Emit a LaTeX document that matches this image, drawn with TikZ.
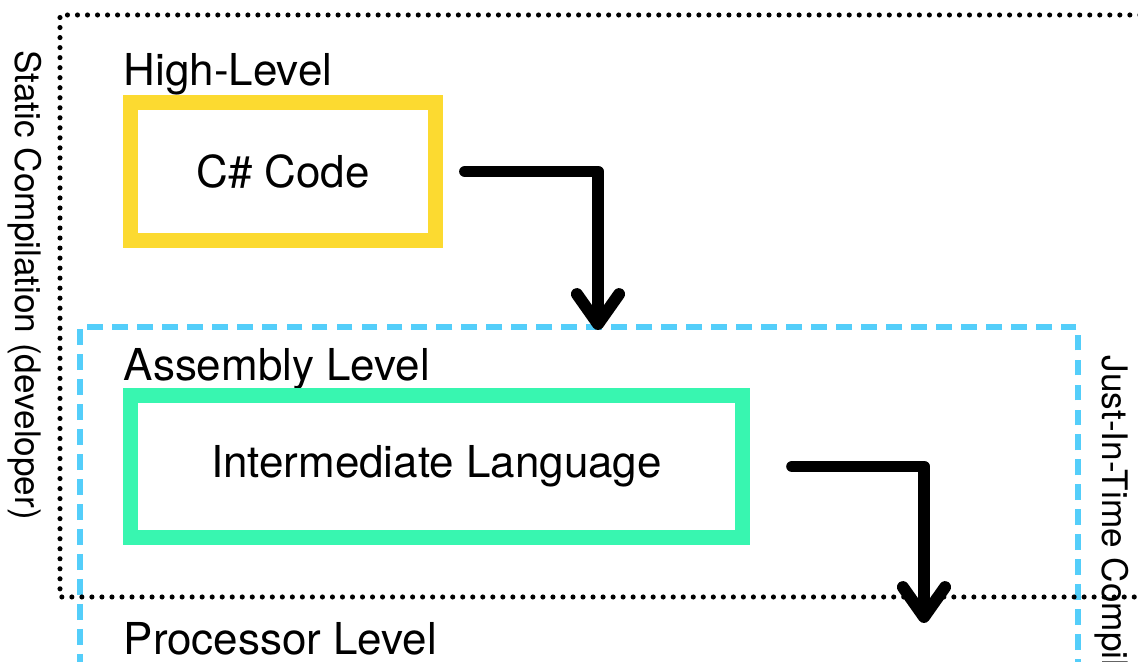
\documentclass[tikz,border=0pt]{standalone}
\usepackage{fontspec}
\setmainfont{TeX Gyre Heros}
\usetikzlibrary{arrows.meta}
\definecolor{codeyellow}{RGB}{252,218,48}
\definecolor{ilgreen}{RGB}{56,246,176}
\definecolor{jitblue}{RGB}{84,206,250}
\tikzset{
  levelbox/.style={draw,line width=4.27pt,fill=white,inner sep=0pt,font=\fontsize{12.5}{15}\selectfont},
  levellabel/.style={anchor=base west,inner sep=0pt,font=\fontsize{12.5}{15}\selectfont},
  sidelabel/.style={rotate=-90,inner sep=0pt,font=\fontsize{10}{12}\selectfont},
  flow/.style={line width=3.4pt,line cap=round,line join=round,-{Straight Barb[length=8.5pt,width=12pt,round]}},
  staticzone/.style={line width=1.45pt,line cap=round,dash pattern=on 0pt off 2.85pt},
  jitzone/.style={draw=jitblue,line width=1.8pt,dash pattern=on 4.5pt off 2.6pt}
}
\begin{document}
\begin{tikzpicture}[x=0.01cm,y=-0.01cm]
\useasboundingbox (0,0) rectangle (1138,662);
\clip (0,0) rectangle (1138,662);
% compilation zones
\draw[jitzone] (1078,700) -- (1078,327) -- (80,327) -- (80,700);
\draw[staticzone] (1200,15) -- (60,15) -- (60,597) -- (1200,597);
\node[sidelabel] (staticlbl) at (25,285) {Static Compilation (developer)};
\node[sidelabel,anchor=west] (jitlbl) at (1112,355) {Just-In-Time Compilation};
% levels
\node[levellabel] (highlvl) at (123,86) {High-Level};
\node[levellabel] (asmlvl) at (123,381) {Assembly Level};
\node[levellabel] (proclvl) at (123,655) {Processor Level};
\node[levelbox,draw=codeyellow,minimum width=3.05cm,minimum height=1.38cm] (csharp) at (283,171.5) {C\# Code};
\node[levelbox,draw=ilgreen,minimum width=6.12cm,minimum height=1.42cm] (il) at (436.5,466.5) {Intermediate Language};
% compile steps
\coordinate (asmtop) at (598,330);
\coordinate (proctop) at (924,623);
\draw[flow] ([xshift=0.22cm]csharp.east) -| (asmtop);
\draw[flow] ([xshift=0.42cm]il.east) -| (proctop);
\end{tikzpicture}
\end{document}
